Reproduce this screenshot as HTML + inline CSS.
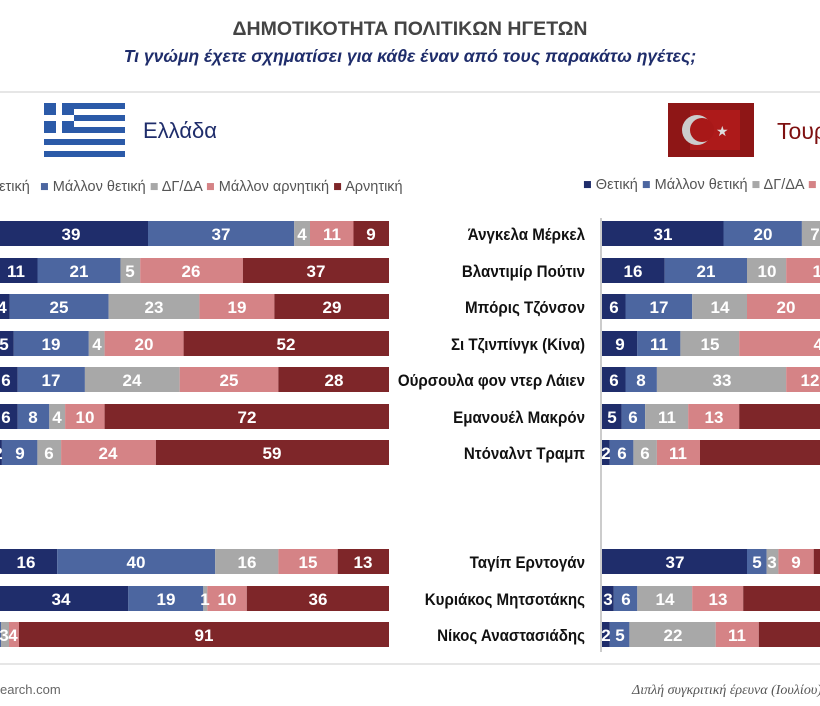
<!DOCTYPE html>
<html><head><meta charset="utf-8"><style>
body{margin:0;background:#fff;width:820px;height:706px;overflow:hidden}
svg{display:block}
.v{fill:#fff;font-family:"Liberation Sans Narrow","Liberation Sans",sans-serif;font-weight:bold;font-size:17px;text-anchor:middle}
.n{fill:#111;font-family:"Liberation Sans",sans-serif;font-weight:bold;font-size:17px;text-anchor:end}
.lg{fill:#555;font-family:"Liberation Sans",sans-serif;font-size:14.5px}
.a{fill:#1f2d6b}.b{fill:#4c66a0}.c{fill:#a8a8a8}.d{fill:#d58386}.e{fill:#7e2629}
</style></head><body>
<svg width="820" height="706" viewBox="0 0 820 706" xmlns="http://www.w3.org/2000/svg">
<text x="410" y="35" text-anchor="middle" font-family="Liberation Sans,sans-serif" font-weight="bold" font-size="19.5" fill="#444">ΔΗΜΟΤΙΚΟΤΗΤΑ ΠΟΛΙΤΙΚΩΝ ΗΓΕΤΩΝ</text>
<text x="410" y="62" text-anchor="middle" font-family="Liberation Sans,sans-serif" font-weight="bold" font-style="italic" font-size="17.5" fill="#1f2d6b">Τι γνώμη έχετε σχηματίσει για κάθε έναν από τους παρακάτω ηγέτες;</text>
<line x1="0" y1="92" x2="820" y2="92" stroke="#e6e6e6" stroke-width="2"/>
<g>
<rect x="44" y="103" width="81" height="54" fill="#2b5aa8"/>
<rect x="44" y="109" width="81" height="6" fill="#fff"/>
<rect x="44" y="121" width="81" height="6" fill="#fff"/>
<rect x="44" y="133" width="81" height="6" fill="#fff"/>
<rect x="44" y="145" width="81" height="6" fill="#fff"/>
<rect x="44" y="103" width="30" height="30" fill="#2b5aa8"/>
<rect x="56" y="103" width="6" height="30" fill="#fff"/>
<rect x="44" y="115" width="30" height="6" fill="#fff"/>
</g>
<text x="143" y="138" font-family="Liberation Sans,sans-serif" font-size="22" fill="#1f2d6b">Ελλάδα</text>
<rect x="668" y="103" width="86" height="54" fill="#8e1616"/>
<rect x="690" y="110" width="50" height="40" fill="#c21e1e" opacity="0.6"/>
<circle cx="697" cy="130" r="15" fill="#ccc"/>
<circle cx="702" cy="130" r="12" fill="#a81818"/>
<text x="716" y="136" font-size="14" fill="#ddd" font-family="DejaVu Sans">★</text>
<text x="777" y="139" font-family="Liberation Sans,sans-serif" font-size="23" fill="#7e1010">Τουρκία</text>
<text class="lg" x="-25" y="191">■ Θετική</text>
<text class="lg" x="40" y="191"><tspan fill="#4c66a0">■</tspan> Μάλλον θετική <tspan fill="#a8a8a8">■</tspan> ΔΓ/ΔΑ <tspan fill="#d58386">■</tspan> Μάλλον αρνητική <tspan fill="#7e2629">■</tspan> Αρνητική</text>
<text class="lg" x="583" y="189"><tspan fill="#1f2d6b">■</tspan> Θετική <tspan fill="#4c66a0">■</tspan> Μάλλον θετική <tspan fill="#a8a8a8">■</tspan> ΔΓ/ΔΑ <tspan fill="#d58386">■</tspan> Μάλλον αρνητική</text>
<line x1="601" y1="218" x2="601" y2="652" stroke="#999" stroke-width="1"/>
<g>
<rect class="a" x="-6" y="221" width="154" height="25"/><rect class="b" x="148" y="221" width="146.2" height="25"/><rect class="c" x="294.2" y="221" width="15.8" height="25"/><rect class="d" x="310" y="221" width="43.5" height="25"/><rect class="e" x="353.5" y="221" width="35.5" height="25"/>
<text class="v" x="71" y="240">39</text><text class="v" x="221" y="240">37</text><text class="v" x="302" y="240">4</text><text class="v" x="332" y="240">11</text><text class="v" x="371" y="240">9</text>

<rect class="a" x="-6" y="258" width="43.5" height="25"/><rect class="b" x="37.5" y="258" width="83" height="25"/><rect class="c" x="120.4" y="258" width="19.8" height="25"/><rect class="d" x="140.2" y="258" width="102.7" height="25"/><rect class="e" x="242.9" y="258" width="146.1" height="25"/>
<text class="v" x="16" y="277">11</text><text class="v" x="79" y="277">21</text><text class="v" x="130" y="277">5</text><text class="v" x="191" y="277">26</text><text class="v" x="316" y="277">37</text>

<rect class="a" x="-6" y="294" width="15.8" height="25"/><rect class="b" x="9.8" y="294" width="98.8" height="25"/><rect class="c" x="108.6" y="294" width="90.8" height="25"/><rect class="d" x="199.4" y="294" width="75" height="25"/><rect class="e" x="274.4" y="294" width="114.6" height="25"/>
<text class="v" x="2" y="313">4</text><text class="v" x="59" y="313">25</text><text class="v" x="154" y="313">23</text><text class="v" x="237" y="313">19</text><text class="v" x="332" y="313">29</text>

<rect class="a" x="-6" y="331" width="19.8" height="25"/><rect class="b" x="13.8" y="331" width="75" height="25"/><rect class="c" x="88.8" y="331" width="15.8" height="25"/><rect class="d" x="104.6" y="331" width="79" height="25"/><rect class="e" x="183.6" y="331" width="205.4" height="25"/>
<text class="v" x="4" y="350">5</text><text class="v" x="51" y="350">19</text><text class="v" x="97" y="350">4</text><text class="v" x="144" y="350">20</text><text class="v" x="286" y="350">52</text>

<rect class="a" x="-6" y="367" width="23.7" height="25"/><rect class="b" x="17.7" y="367" width="67.2" height="25"/><rect class="c" x="84.9" y="367" width="94.8" height="25"/><rect class="d" x="179.7" y="367" width="98.7" height="25"/><rect class="e" x="278.4" y="367" width="110.6" height="25"/>
<text class="v" x="6" y="386">6</text><text class="v" x="51" y="386">17</text><text class="v" x="132" y="386">24</text><text class="v" x="229" y="386">25</text><text class="v" x="334" y="386">28</text>

<rect class="a" x="-6" y="404" width="23.7" height="25"/><rect class="b" x="17.7" y="404" width="31.6" height="25"/><rect class="c" x="49.3" y="404" width="15.8" height="25"/><rect class="d" x="65.1" y="404" width="39.5" height="25"/><rect class="e" x="104.6" y="404" width="284.4" height="25"/>
<text class="v" x="6" y="423">6</text><text class="v" x="33" y="423">8</text><text class="v" x="57" y="423">4</text><text class="v" x="85" y="423">10</text><text class="v" x="247" y="423">72</text>

<rect class="a" x="-6" y="440" width="7.9" height="25"/><rect class="b" x="1.9" y="440" width="35.5" height="25"/><rect class="c" x="37.4" y="440" width="23.7" height="25"/><rect class="d" x="61.1" y="440" width="94.8" height="25"/><rect class="e" x="155.9" y="440" width="233.1" height="25"/>
<text class="v" x="-2" y="459">2</text><text class="v" x="20" y="459">9</text><text class="v" x="49" y="459">6</text><text class="v" x="108" y="459">24</text><text class="v" x="272" y="459">59</text>

<rect class="a" x="-6" y="549" width="63.2" height="25"/><rect class="b" x="57.2" y="549" width="158" height="25"/><rect class="c" x="215.2" y="549" width="63.2" height="25"/><rect class="d" x="278.4" y="549" width="59.3" height="25"/><rect class="e" x="337.7" y="549" width="51.3" height="25"/>
<text class="v" x="26" y="568">16</text><text class="v" x="136" y="568">40</text><text class="v" x="247" y="568">16</text><text class="v" x="308" y="568">15</text><text class="v" x="363" y="568">13</text>

<rect class="a" x="-6" y="586" width="134.3" height="25"/><rect class="b" x="128.3" y="586" width="75" height="25"/><rect class="c" x="203.3" y="586" width="4" height="25"/><rect class="d" x="207.3" y="586" width="39.5" height="25"/><rect class="e" x="246.8" y="586" width="142.2" height="25"/>
<text class="v" x="61" y="605">34</text><text class="v" x="166" y="605">19</text><text class="v" x="205" y="605">1</text><text class="v" x="227" y="605">10</text><text class="v" x="318" y="605">36</text>

<rect class="b" x="-6" y="622" width="7" height="25"/><rect class="c" x="1" y="622" width="8" height="25"/><rect class="d" x="9" y="622" width="10" height="25"/><rect class="e" x="19" y="622" width="370" height="25"/>
<text class="v" x="4" y="641">3</text><text class="v" x="13" y="641">4</text><text class="v" x="204" y="641">91</text>
</g>
<g transform="scale(0.89,1)">
<text class="n" x="657.3" y="240">Άνγκελα Μέρκελ</text>
<text class="n" x="657.3" y="277">Βλαντιμίρ Πούτιν</text>
<text class="n" x="657.3" y="313">Μπόρις Τζόνσον</text>
<text class="n" x="657.3" y="350">Σι Τζινπίνγκ (Κίνα)</text>
<text class="n" x="657.3" y="386">Ούρσουλα φον ντερ Λάιεν</text>
<text class="n" x="657.3" y="423">Εμανουέλ Μακρόν</text>
<text class="n" x="657.3" y="459">Ντόναλντ Τραμπ</text>
<text class="n" x="657.3" y="568">Ταγίπ Ερντογάν</text>
<text class="n" x="657.3" y="605">Κυριάκος Μητσοτάκης</text>
<text class="n" x="657.3" y="641">Νίκος Αναστασιάδης</text>
</g>
<g>
<rect class="a" x="602" y="221" width="121.5" height="25"/><rect class="b" x="723.5" y="221" width="78.4" height="25"/><rect class="c" x="801.9" y="221" width="27.5" height="25"/>
<text class="v" x="663" y="240">31</text><text class="v" x="763" y="240">20</text><text class="v" x="815" y="240">7</text>

<rect class="a" x="602" y="258" width="62.7" height="25"/><rect class="b" x="664.7" y="258" width="82.3" height="25"/><rect class="c" x="747" y="258" width="39.2" height="25"/><rect class="d" x="786.2" y="258" width="70" height="25"/>
<text class="v" x="633" y="277">16</text><text class="v" x="706" y="277">21</text><text class="v" x="767" y="277">10</text><text class="v" x="822" y="277">18</text>

<rect class="a" x="602" y="294" width="23.5" height="25"/><rect class="b" x="625.5" y="294" width="66.7" height="25"/><rect class="c" x="692.2" y="294" width="54.8" height="25"/><rect class="d" x="747" y="294" width="78.4" height="25"/>
<text class="v" x="614" y="313">6</text><text class="v" x="659" y="313">17</text><text class="v" x="720" y="313">14</text><text class="v" x="786" y="313">20</text>

<rect class="a" x="602" y="331" width="35.3" height="25"/><rect class="b" x="637.3" y="331" width="43.1" height="25"/><rect class="c" x="680.4" y="331" width="58.8" height="25"/><rect class="d" x="739.2" y="331" width="90" height="25"/>
<text class="v" x="620" y="350">9</text><text class="v" x="659" y="350">11</text><text class="v" x="710" y="350">15</text><text class="v" x="823" y="350">40</text>

<rect class="a" x="602" y="367" width="23.5" height="25"/><rect class="b" x="625.5" y="367" width="31.4" height="25"/><rect class="c" x="656.9" y="367" width="129.3" height="25"/><rect class="d" x="786.2" y="367" width="47" height="25"/>
<text class="v" x="614" y="386">6</text><text class="v" x="641" y="386">8</text><text class="v" x="722" y="386">33</text><text class="v" x="810" y="386">12</text>

<rect class="a" x="602" y="404" width="19.6" height="25"/><rect class="b" x="621.6" y="404" width="23.5" height="25"/><rect class="c" x="645.1" y="404" width="43.1" height="25"/><rect class="d" x="688.2" y="404" width="51" height="25"/><rect class="e" x="739.2" y="404" width="90" height="25"/>
<text class="v" x="612" y="423">5</text><text class="v" x="633" y="423">6</text><text class="v" x="667" y="423">11</text><text class="v" x="714" y="423">13</text>

<rect class="a" x="602" y="440" width="7.8" height="25"/><rect class="b" x="609.8" y="440" width="23.6" height="25"/><rect class="c" x="633.4" y="440" width="23.5" height="25"/><rect class="d" x="656.9" y="440" width="43.1" height="25"/><rect class="e" x="700" y="440" width="130" height="25"/>
<text class="v" x="606" y="459">2</text><text class="v" x="622" y="459">6</text><text class="v" x="645" y="459">6</text><text class="v" x="678" y="459">11</text>

<rect class="a" x="602" y="549" width="145" height="25"/><rect class="b" x="747" y="549" width="19.6" height="25"/><rect class="c" x="766.6" y="549" width="11.8" height="25"/><rect class="d" x="778.4" y="549" width="35.3" height="25"/><rect class="e" x="813.7" y="549" width="20" height="25"/>
<text class="v" x="675" y="568">37</text><text class="v" x="757" y="568">5</text><text class="v" x="772" y="568">3</text><text class="v" x="796" y="568">9</text>

<rect class="a" x="602" y="586" width="11.8" height="25"/><rect class="b" x="613.8" y="586" width="23.5" height="25"/><rect class="c" x="637.3" y="586" width="54.9" height="25"/><rect class="d" x="692.2" y="586" width="51" height="25"/><rect class="e" x="743.2" y="586" width="90" height="25"/>
<text class="v" x="608" y="605">3</text><text class="v" x="626" y="605">6</text><text class="v" x="665" y="605">14</text><text class="v" x="718" y="605">13</text>

<rect class="a" x="602" y="622" width="7.8" height="25"/><rect class="b" x="609.8" y="622" width="19.6" height="25"/><rect class="c" x="629.4" y="622" width="86.3" height="25"/><rect class="d" x="715.7" y="622" width="43.1" height="25"/><rect class="e" x="758.8" y="622" width="70" height="25"/>
<text class="v" x="606" y="641">2</text><text class="v" x="620" y="641">5</text><text class="v" x="673" y="641">22</text><text class="v" x="737" y="641">11</text>
</g>
<line x1="0" y1="664" x2="820" y2="664" stroke="#e6e6e6" stroke-width="2"/>
<text x="0" y="694" font-family="Liberation Sans,sans-serif" font-size="13" fill="#666">earch.com</text>
<text x="632" y="694" font-family="Liberation Serif,serif" font-style="italic" font-size="14" fill="#555">Διπλή συγκριτική έρευνα (Ιουλίου)</text>
</svg>
</body></html>
